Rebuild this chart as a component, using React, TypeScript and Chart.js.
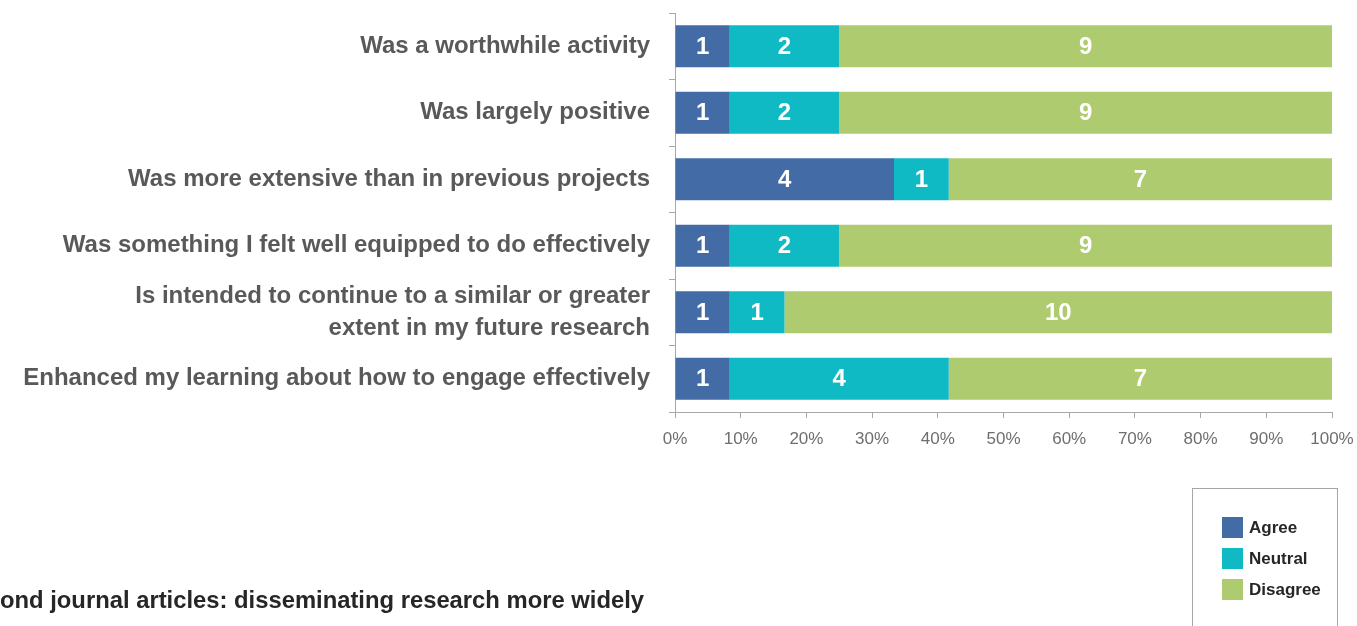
import React, { useEffect, useRef } from "react";
import { Chart, registerables } from "chart.js";

Chart.register(...registerables);

// ---- data ----
const categories: (string | string[])[] = [
  "Was a worthwhile activity",
  "Was largely positive",
  "Was more extensive than in previous projects",
  "Was something I felt well equipped to do effectively",
  ["Is intended to continue to a similar or greater", "extent in my future research"],
  "Enhanced my learning about how to engage effectively",
];
const agreeCounts = [1, 1, 4, 1, 1, 1];
const neutralCounts = [2, 2, 1, 2, 1, 4];
const disagreeCounts = [9, 9, 7, 9, 10, 7];
const seriesNames = ["Agree", "Neutral", "Disagree"];
const seriesColors = ["#436BA6", "#10BAC5", "#AECB6F"];
const xTickValues = [0, 10, 20, 30, 40, 50, 60, 70, 80, 90, 100];
const bottomTitle = "ond journal articles: disseminating research more widely";

const FONT = "'Liberation Sans', Arial, sans-serif";

const seriesCounts = [agreeCounts, neutralCounts, disagreeCounts];
const totals = categories.map((_, i) => seriesCounts.reduce((s, arr) => s + arr[i], 0));
const toPct = (arr: number[]) => arr.map((v, i) => (v / totals[i]) * 100);

const valueLabelPlugin = {
  id: "valueLabels",
  afterDatasetsDraw(chart: any) {
    const ctx = chart.ctx;
    ctx.save();
    ctx.fillStyle = "#ffffff";
    ctx.font = `bold 24px ${FONT}`;
    ctx.textAlign = "center";
    ctx.textBaseline = "middle";
    chart.data.datasets.forEach((ds: any, di: number) => {
      const meta = chart.getDatasetMeta(di);
      meta.data.forEach((el: any, i: number) => {
        const count = seriesCounts[di][i];
        if (!count) return;
        const p = el.getProps(["x", "y", "base"], true);
        ctx.fillText(String(count), (p.x + p.base) / 2, p.y + 1);
      });
    });
    ctx.restore();
  },
};

export default function App() {
  const canvasRef = useRef<HTMLCanvasElement | null>(null);

  useEffect(() => {
    if (!canvasRef.current) return;
    const chart = new Chart(canvasRef.current, {
      type: "bar",
      data: {
        labels: categories,
        datasets: seriesNames.map((name, k) => ({
          label: name,
          data: toPct(seriesCounts[k]),
          backgroundColor: seriesColors[k],
          borderWidth: 0,
          categoryPercentage: 1,
          barPercentage: 0.63,
        })),
      },
      options: {
        indexAxis: "y",
        responsive: false,
        animation: false,
        devicePixelRatio: 1,
        layout: { padding: { top: 13, right: 25, left: 0, bottom: 0 } },
        plugins: {
          legend: { display: false },
          tooltip: { enabled: false },
          title: { display: false },
        },
        scales: {
          x: {
            type: "linear",
            stacked: true,
            min: 0,
            max: 100,
            afterBuildTicks: (s: any) => {
              s.ticks = xTickValues.map((v) => ({ value: v }));
            },
            ticks: {
              callback: (v: any) => `${v}%`,
              color: "#6e6e6e",
              font: { family: FONT, size: 17 },
              padding: 11,
              autoSkip: false,
              maxRotation: 0,
            },
            grid: {
              drawOnChartArea: false,
              drawTicks: true,
              tickLength: 6,
              color: "#a8a8a8",
            },
            border: { color: "#a8a8a8", width: 1 },
            afterFit: (s: any) => {
              s.height = 626 - 412;
              s.paddingLeft = 0;
              s.paddingRight = 0;
            },
          },
          y: {
            type: "category",
            stacked: true,
            ticks: {
              color: "#595959",
              font: { family: FONT, size: 24, weight: "bold", lineHeight: 1.33 },
              padding: 19,
              autoSkip: false,
            },
            grid: {
              drawOnChartArea: false,
              drawTicks: true,
              tickLength: 6,
              offset: true,
              color: "#a8a8a8",
            },
            border: { color: "#a8a8a8", width: 1 },
            afterFit: (s: any) => {
              s.width = 675;
              s.paddingTop = 0;
              s.paddingBottom = 0;
            },
          },
        },
      },
      plugins: [valueLabelPlugin],
    } as any);
    return () => chart.destroy();
  }, []);

  return (
    <div
      style={{
        position: "absolute",
        left: 0,
        top: 0,
        width: 1357,
        height: 626,
        overflow: "hidden",
        background: "#ffffff",
      }}
    >
      <canvas ref={canvasRef} width={1357} height={626} style={{ display: "block" }} />
      <div
        style={{
          position: "absolute",
          left: 0,
          top: 586,
          fontFamily: FONT,
          fontWeight: "bold",
          fontSize: 23.8,
          lineHeight: "28px",
          color: "#262626",
          whiteSpace: "nowrap",
        }}
      >
        {bottomTitle}
      </div>
      <div
        style={{
          position: "absolute",
          left: 1192,
          top: 488,
          width: 146,
          height: 160,
          boxSizing: "border-box",
          border: "1.5px solid #a6a6a6",
        }}
      />
      {seriesNames.map((name, k) => (
        <div
          key={name}
          style={{
            position: "absolute",
            left: 1222,
            top: 517 + k * 31,
            height: 21,
            display: "flex",
            alignItems: "center",
            whiteSpace: "nowrap",
          }}
        >
          <span style={{ width: 21, height: 21, background: seriesColors[k], display: "inline-block" }} />
          <span
            style={{
              marginLeft: 6,
              fontFamily: FONT,
              fontWeight: "bold",
              fontSize: 17,
              lineHeight: "21px",
              color: "#262626",
            }}
          >
            {name}
          </span>
        </div>
      ))}
    </div>
  );
}
